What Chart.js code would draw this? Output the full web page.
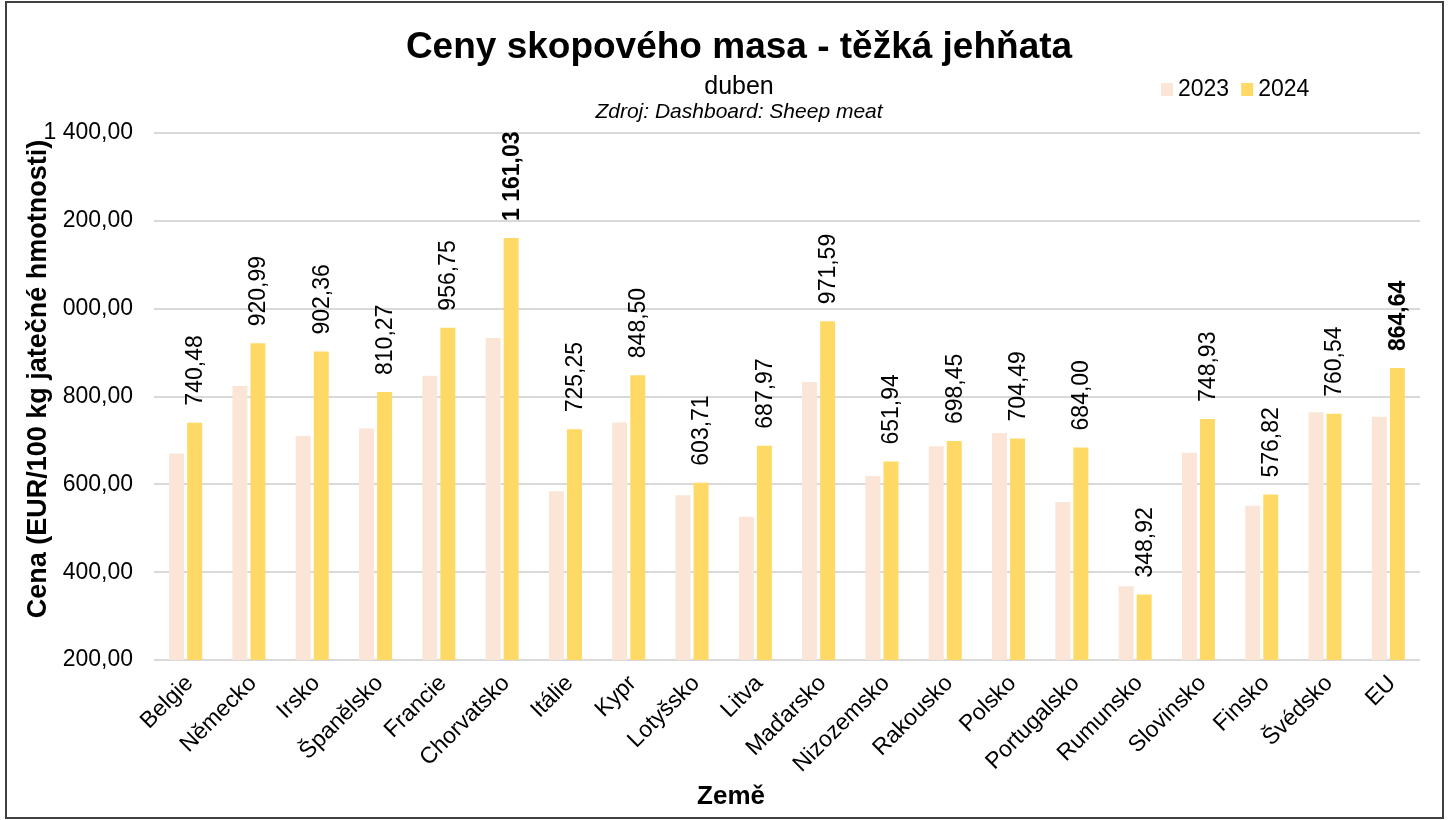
<!DOCTYPE html>
<html><head><meta charset="utf-8">
<script src="https://cdn.jsdelivr.net/npm/chart.js@4/dist/chart.umd.min.js"></script>
<style>html,body{margin:0;padding:0;background:#fff;}canvas{display:block;}</style>
</head><body>
<canvas id="c" width="1451" height="820"></canvas>
<script>
const categories = ['Belgie','Německo','Irsko','Španělsko','Francie','Chorvatsko','Itálie','Kypr','Lotyšsko','Litva','Maďarsko','Nizozemsko','Rakousko','Polsko','Portugalsko','Rumunsko','Slovinsko','Finsko','Švédsko','EU'];
const values2023 = [670,824,710,727,847,933,584,741,575,526,833,619,687,717,560,368,672,551,764,754];
const values2024 = [740.48,920.99,902.36,810.27,956.75,1161.03,725.25,848.50,603.71,687.97,971.59,651.94,698.45,704.49,684.00,348.92,748.93,576.82,760.54,864.64];
const seriesNames = ['2023','2024'];
const yTickValues = [200,400,600,800,1000,1200,1400];
const boldLabelCategories = ['Chorvatsko','EU'];
const chartTitle = 'Ceny skopového masa - těžká jehňata';
const chartSubtitle = 'duben';
const chartSource = 'Zdroj: Dashboard: Sheep meat';
const yAxisTitle = 'Cena (EUR/100 kg jatečné hmotnosti)';
const xAxisTitle = 'Země';

const FONT = "'Liberation Sans', Arial, Helvetica, sans-serif";
const COLORS = ['#FBE5D6', '#FFD966'];

function fmt(v){
  const s = Number(v).toFixed(2);
  let [i, d] = s.split('.');
  i = i.replace(/\B(?=(\d{3})+(?!\d))/g, ' ');
  return i + ',' + d;
}

const deco = {
  id: 'deco',
  afterDatasetsDraw(chart){
    const ctx = chart.ctx;
    const meta = chart.getDatasetMeta(1);
    ctx.save();
    ctx.fillStyle = '#000';
    meta.data.forEach((bar, i) => {
      const bold = boldLabelCategories.includes(categories[i]);
      ctx.font = (bold ? 'bold ' : '') + '23px ' + FONT;
      ctx.save();
      ctx.translate(bar.x, bar.y - 17);
      ctx.rotate(-Math.PI/2);
      ctx.textAlign = 'left';
      ctx.textBaseline = 'middle';
      ctx.fillText(fmt(values2024[i]), 0, 1);
      ctx.restore();
    });
    ctx.restore();
  },
  afterDraw(chart){
    const ctx = chart.ctx;
    ctx.save();
    ctx.fillStyle = '#000';
    ctx.textAlign = 'center';
    ctx.textBaseline = 'alphabetic';
    ctx.font = 'bold 37px ' + FONT;
    ctx.fillText(chartTitle, 739, 58);
    ctx.font = '25px ' + FONT;
    ctx.fillText(chartSubtitle, 739, 94);
    ctx.font = 'italic 21px ' + FONT;
    ctx.fillText(chartSource, 739, 118);

    // legend
    ctx.font = '23px ' + FONT;
    ctx.textAlign = 'left';
    ctx.textBaseline = 'middle';
    let lx = 1161;
    seriesNames.forEach((n, k) => {
      ctx.fillStyle = COLORS[k];
      ctx.fillRect(lx, 83, 12, 13);
      ctx.fillStyle = '#000';
      ctx.fillText(n, lx + 17, 90);
      lx += 17 + ctx.measureText(n).width + 12;
    });

    // y axis title with white background (covers the clipped part of tick labels)
    ctx.save();
    ctx.font = 'bold 27px ' + FONT;
    const w = ctx.measureText(yAxisTitle).width;
    const cy = 379, cx = 39;
    ctx.translate(cx, cy);
    ctx.rotate(-Math.PI/2);
    ctx.fillStyle = '#fff';
    const topLimit = cy - 146;
    ctx.fillRect(-w/2 - 2, -16, topLimit + w/2 + 2, 36);
    ctx.fillStyle = '#000';
    ctx.textAlign = 'center';
    ctx.textBaseline = 'middle';
    ctx.fillText(yAxisTitle, 0, 0);
    ctx.restore();

    // x axis title
    ctx.font = 'bold 26px ' + FONT;
    ctx.textAlign = 'center';
    ctx.textBaseline = 'middle';
    ctx.fillText(xAxisTitle, 731, 797);

    // border
    ctx.strokeStyle = '#404040';
    ctx.lineWidth = 2;
    ctx.strokeRect(6, 2, 1437, 816);
    ctx.restore();
  }
};

new Chart(document.getElementById('c'), {
  type: 'bar',
  data: {
    labels: categories,
    datasets: [
      { label: seriesNames[0], data: values2023, backgroundColor: COLORS[0], categoryPercentage: 0.57, barPercentage: 0.83 },
      { label: seriesNames[1], data: values2024, backgroundColor: COLORS[1], categoryPercentage: 0.57, barPercentage: 0.83 }
    ]
  },
  options: {
    responsive: false,
    animation: false,
    devicePixelRatio: 1,
    layout: { padding: { top: 133, right: 31, bottom: 0, left: 0 } },
    plugins: { legend: { display: false }, title: { display: false }, tooltip: { enabled: false } },
    scales: {
      x: {
        grid: { display: false },
        border: { display: false },
        ticks: {
          autoSkip: false, maxRotation: 45, minRotation: 45, padding: 2, labelOffset: 4,
          color: '#000', font: { family: FONT, size: 23 }
        },
        afterFit(scale){ scale.height = 160; }
      },
      y: {
        min: 200, max: 1400,
        afterBuildTicks(scale){ scale.ticks = yTickValues.map(v => ({ value: v })); },
        grid: { color: '#D9D9D9', lineWidth: 2, drawTicks: false },
        border: { display: false },
        ticks: {
          padding: 21, color: '#000', font: { family: FONT, size: 23 },
          callback: (v) => fmt(v)
        },
        afterFit(scale){ scale.width = 154; }
      }
    }
  },
  plugins: [deco]
});
</script>
</body></html>
